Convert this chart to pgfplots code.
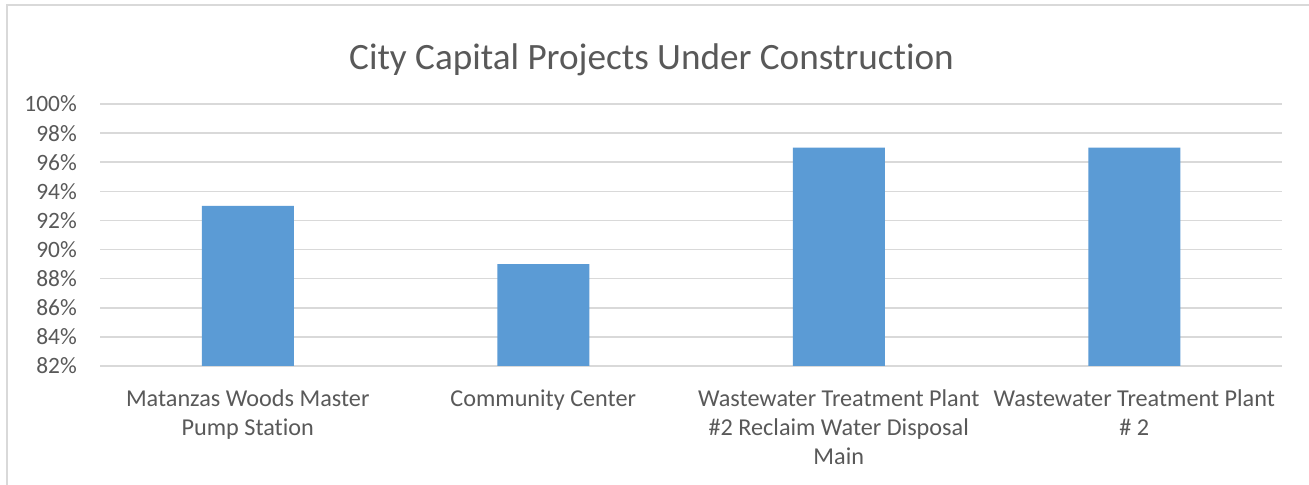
\documentclass[border=0pt]{standalone}
\usepackage{pgfplots}
\pgfplotsset{compat=1.18}
\usepackage{fontspec}
\setmainfont{Carlito}[Ligatures=NoCommon]
\definecolor{barblue}{HTML}{5B9BD5}
\definecolor{gridgray}{HTML}{D9D9D9}
\definecolor{txtgray}{HTML}{595959}
\begin{document}
\begin{tikzpicture}[x=1bp,y=1bp]
\useasboundingbox (0,0) rectangle (1309,485);
\fill[white] (0,0) rectangle (1309,485);
\draw[gridgray, line width=1.5bp] (7,0) -- (7,480) -- (1309,480);
\node[txtgray, font=\fontsize{37.3}{44}\selectfont] at (651.5,425.5) {City Capital Projects Under Construction};
\begin{axis}[
  at={(100bp,119bp)}, anchor=south west,
  scale only axis, width=1182bp, height=262bp,
  xmin=-0.5, xmax=3.5, ymin=82, ymax=100,
  ytick={82,84,...,100},
  xtick={0,1,2,3},
  xticklabels={{Matanzas Woods Master\\Pump Station},{Community Center},{Wastewater Treatment Plant\\\#2 Reclaim Water Disposal\\Main},{Wastewater Treatment Plant\\\# 2}},
  xticklabel style={align=center, anchor=north, inner sep=0pt, yshift=-19bp, font=\fontsize{24.3}{29}\selectfont, text=txtgray},
  yticklabel={\pgfmathprintnumber{\tick}\%},
  /pgf/number format/assume math mode=true,
  yticklabel style={anchor=east, inner sep=0pt, xshift=-23bp, font=\fontsize{23.5}{28}\selectfont, text=txtgray},
  ymajorgrids, grid style={gridgray, line width=1.5bp},
  axis line style={draw=none}, major tick style={draw=none},
  ybar, bar width=92bp,
]
\addplot[fill=barblue, draw=none] coordinates {(0,93) (1,89) (2,97) (3,97)};
\end{axis}
\end{tikzpicture}
\end{document}
